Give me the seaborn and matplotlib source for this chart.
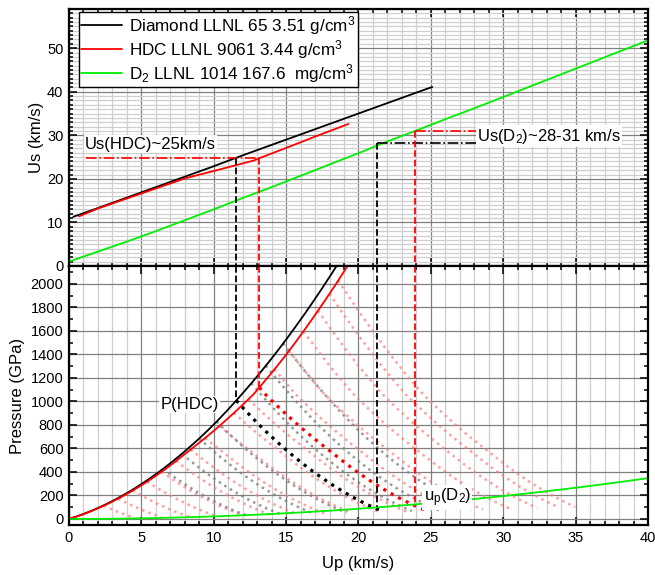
import numpy as np
import pandas as pd
import matplotlib
matplotlib.use("Agg")
import matplotlib.pyplot as plt
from matplotlib.ticker import MultipleLocator
from matplotlib.lines import Line2D
import seaborn as sns

sns.set_theme(style="white")
plt.rcParams['font.family'] = ['Liberation Sans', 'DejaVu Sans']
plt.rcParams['mathtext.default'] = 'regular'
for key in ("text.color", "axes.labelcolor", "xtick.color", "ytick.color"):
    plt.rcParams[key] = "black"

# Us-Up Hugoniots (km/s)
diamond_up = [0.3, 2, 4, 6, 8, 10, 12, 14, 16, 18, 20, 22, 24, 25.1]
diamond_us = [11.3, 13.3, 15.7, 18.1, 20.5, 22.9, 25.4, 27.8, 30.2, 32.6, 35.0, 37.4, 39.8, 41.1]
hdc_up = [0.7, 2, 4, 6, 8.1, 10, 11.6, 12.75, 13.15, 15, 17, 19.3]
hdc_us = [11.4, 13.2, 15.5, 17.8, 20.2, 21.8, 23.2, 24.2, 24.75, 27.1, 29.7, 32.6]
d2_up = [0, 2, 4, 6, 8, 10, 12, 14, 16, 18, 20, 22, 24, 26, 28, 30, 32, 34, 36, 38, 40]
d2_us = [1.0, 3.3, 5.6, 8.0, 10.5, 13.0, 15.6, 18.1, 20.7, 23.3, 25.9, 28.6, 31.1, 33.7, 36.2, 38.8, 41.4, 44.0, 46.6, 49.2, 51.8]

# initial densities (g/cm3) from the legend
rho_diamond = 3.51
rho_hdc = 3.44
rho_d2 = 0.1676

# release states: starting Up on each Hugoniot
hdc_release_up = [2.4, 3.4, 4.4, 5.4, 6.4, 7.4, 8.4, 9.4, 10.4, 11.4, 12.4, 14.2, 15.2, 16.2, 17.2, 18.0, 18.6]
diamond_release_up = [6.5, 7.8, 9.0, 10.2, 12.6, 13.6, 14.8]
hdc_case_up = 13.15
diamond_case_up = 11.56
release_span = 1.88

# impedance match points
d2_match_diamond = (21.3, 28.2)
d2_match_hdc = (23.9, 31.05)


def hugoniot_p(u, up, us, rho):
    return rho * np.interp(u, up, us) * u


def release_frame(starts, up, us, rho):
    rows = []
    for i, u1 in enumerate(starts):
        u = np.linspace(u1, release_span * u1, 40)
        p = hugoniot_p(2 * u1 - u, up, us, rho)
        rows.append(pd.DataFrame({"up": u, "P": p, "curve": i}))
    return pd.concat(rows, ignore_index=True)


fig = plt.figure(figsize=(6.55, 5.75), dpi=100)
ax1 = fig.add_axes([0.1053, 0.5374, 0.884, 0.447])
ax2 = fig.add_axes([0.1053, 0.0870, 0.884, 0.4504])

major_c, minor_c = "#808080", "#cfcfcf"
for ax in (ax1, ax2):
    ax.set_facecolor("white")
    ax.set_axisbelow(True)
    ax.xaxis.set_major_locator(MultipleLocator(5))
    ax.xaxis.set_minor_locator(MultipleLocator(1))
    ax.grid(which="major", color=major_c, lw=0.9)
    ax.grid(which="minor", color=minor_c, lw=0.9)
    ax.tick_params(which="both", direction="in", top=True, right=True,
                   bottom=True, left=True, color="black", width=1.1)
    ax.tick_params(which="major", length=6, labelsize=10.5, pad=4)
    ax.tick_params(which="minor", length=3)
    for s in ax.spines.values():
        s.set_color("black")
        s.set_linewidth(1.6)
    ax.set_xlim(0, 40)

# ---------------- top panel: Us vs Up ----------------
sns.lineplot(x=diamond_up, y=diamond_us, ax=ax1, color="black", lw=1.3, sort=False, estimator=None)
sns.lineplot(x=hdc_up, y=hdc_us, ax=ax1, color="red", lw=1.3, sort=False, estimator=None)
sns.lineplot(x=d2_up, y=d2_us, ax=ax1, color="#00ee00", lw=1.3, sort=False, estimator=None)

us_hdc = np.interp(hdc_case_up, hdc_up, hdc_us)
ax1.plot([1.2, hdc_case_up], [24.9, 24.9], color="red", ls="-.", lw=1.2)
ax1.plot([hdc_case_up, hdc_case_up], [us_hdc, 0], color="red", ls="--", lw=1.3)
ax1.plot([diamond_case_up, diamond_case_up], [24.9, 0], color="black", ls="--", lw=1.3)
ax1.plot([d2_match_diamond[0], 28.1], [d2_match_diamond[1]] * 2, color="black", ls="-.", lw=1.2)
ax1.plot([d2_match_hdc[0], 28.1], [d2_match_hdc[1]] * 2, color="red", ls="-.", lw=1.2)
ax1.plot([d2_match_diamond[0]] * 2, [d2_match_diamond[1], 0], color="black", ls="--", lw=1.3)
ax1.plot([d2_match_hdc[0]] * 2, [d2_match_hdc[1], 0], color="red", ls="--", lw=1.3)

box = dict(facecolor="white", edgecolor="none", pad=1.0)
ax1.text(1.1, 28.0, "Us(HDC)~25km/s", fontsize=12, ha="left", va="center", bbox=box)
ax1.text(28.2, 29.8, "Us(D$_2$)~28-31 km/s", fontsize=12, ha="left", va="center", bbox=box)

ax1.set_ylim(0, 59)
ax1.yaxis.set_major_locator(MultipleLocator(10))
ax1.yaxis.set_minor_locator(MultipleLocator(1))
ax1.tick_params(labelbottom=False)
ax1.set_xlabel("")
ax1.set_ylabel("Us (km/s)", fontsize=12, labelpad=2)

handles = [Line2D([], [], color="black", lw=1.3),
           Line2D([], [], color="red", lw=1.3),
           Line2D([], [], color="#00ee00", lw=1.3)]
labels = ["Diamond LLNL 65 3.51 g/cm$^3$",
          "HDC LLNL 9061 3.44 g/cm$^3$",
          "D$_2$ LLNL 1014 167.6  mg/cm$^3$"]
leg = ax1.legend(handles, labels, loc="upper left", bbox_to_anchor=(0.018, 0.988),
                 fontsize=12.3, frameon=True, fancybox=False, framealpha=1,
                 edgecolor="black", handlelength=2.4, handletextpad=0.4,
                 labelspacing=0.05, borderpad=0.12, borderaxespad=0)
leg.get_frame().set_linewidth(1.0)

# ---------------- bottom panel: P vs Up ----------------
u_dia = np.linspace(0, 20, 200)
u_hdc = np.linspace(0, 20, 200)
u_d2 = np.array(d2_up, dtype=float)
hug = pd.concat([
    pd.DataFrame({"up": u_dia, "P": hugoniot_p(u_dia, diamond_up, diamond_us, rho_diamond), "mat": "Diamond"}),
    pd.DataFrame({"up": u_hdc, "P": hugoniot_p(u_hdc, hdc_up, hdc_us, rho_hdc), "mat": "HDC"}),
    pd.DataFrame({"up": u_d2, "P": rho_d2 * np.array(d2_us) * u_d2, "mat": "D2"}),
])

rel_hdc = release_frame(hdc_release_up, hdc_up, hdc_us, rho_hdc)
rel_dia = release_frame(diamond_release_up, diamond_up, diamond_us, rho_diamond)
sns.lineplot(data=rel_hdc, x="up", y="P", units="curve", estimator=None, sort=False, ax=ax2,
             color="#ff8080", alpha=0.75, lw=1.8, ls=":")
sns.lineplot(data=rel_dia, x="up", y="P", units="curve", estimator=None, sort=False, ax=ax2,
             color="#808080", alpha=0.8, lw=1.8, ls=":")
case_hdc = release_frame([hdc_case_up], hdc_up, hdc_us, rho_hdc)
case_dia = release_frame([diamond_case_up], diamond_up, diamond_us, rho_diamond)
sns.lineplot(data=case_hdc, x="up", y="P", estimator=None, sort=False, ax=ax2,
             color="red", lw=2.3, ls=":")
sns.lineplot(data=case_dia, x="up", y="P", estimator=None, sort=False, ax=ax2,
             color="black", lw=2.3, ls=":")

sns.lineplot(data=hug, x="up", y="P", hue="mat", sort=False, estimator=None, ax=ax2,
             palette={"Diamond": "black", "HDC": "red", "D2": "#00ee00"}, lw=1.3, legend=False)

p_dia = hugoniot_p(diamond_case_up, diamond_up, diamond_us, rho_diamond)
p_hdc = hugoniot_p(hdc_case_up, hdc_up, hdc_us, rho_hdc)
top2 = 2153
ax2.plot([diamond_case_up] * 2, [top2, p_dia], color="black", ls="--", lw=1.3)
ax2.plot([hdc_case_up] * 2, [top2, p_hdc], color="red", ls="--", lw=1.3)
ax2.plot([d2_match_diamond[0]] * 2, [top2, rho_d2 * d2_match_diamond[0] * d2_match_diamond[1]],
         color="black", ls="--", lw=1.3)
ax2.plot([d2_match_hdc[0]] * 2, [top2, rho_d2 * d2_match_hdc[0] * d2_match_hdc[1]],
         color="red", ls="--", lw=1.3)

ax2.text(10.35, 975, "P(HDC)", fontsize=12, ha="right", va="center", bbox=box)
ax2.text(24.5, 185, "u$_p$(D$_2$)", fontsize=12, ha="left", va="center", bbox=box)

ax2.set_ylim(-51, top2)
ax2.yaxis.set_major_locator(MultipleLocator(200))
ax2.yaxis.set_minor_locator(MultipleLocator(100))
ax2.grid(which="minor", axis="y", visible=False)
ax2.set_xlabel("Up (km/s)", fontsize=12, labelpad=8)
ax2.set_ylabel("Pressure (GPa)", fontsize=12, labelpad=4)

fig.savefig("out.png", dpi=100)
